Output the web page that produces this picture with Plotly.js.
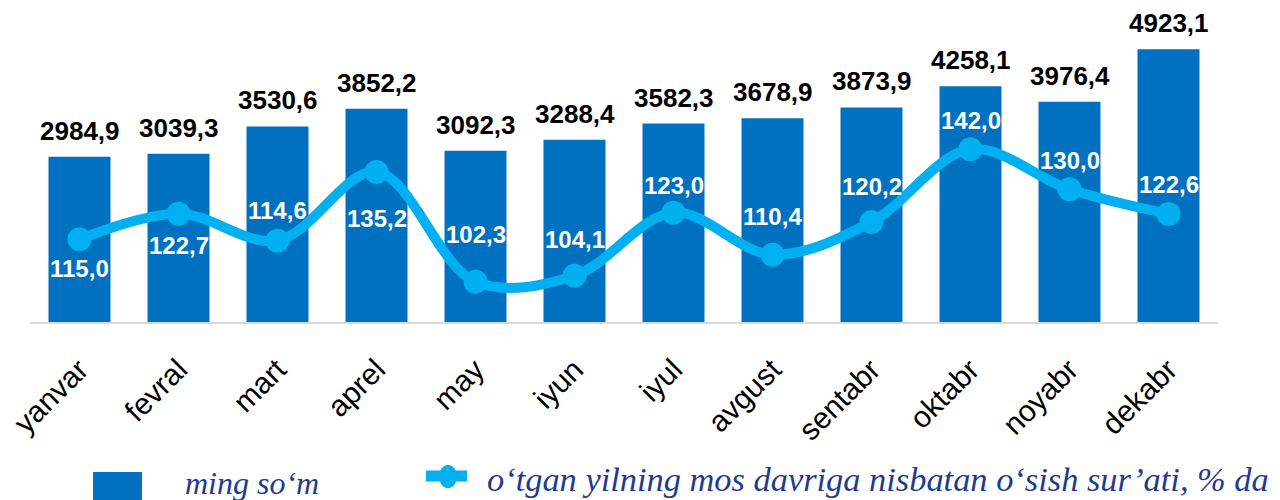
<!DOCTYPE html>
<html>
<head>
<meta charset="utf-8">
<script src="https://cdn.plot.ly/plotly-3.0.1.min.js"></script>
<style>html,body{margin:0;padding:0;background:#fff;}#chart{width:1280px;height:500px;}</style>
</head>
<body>
<div id="chart"></div>
<script>
const months = ['yanvar','fevral','mart','aprel','may','iyun','iyul','avgust','sentabr','oktabr','noyabr','dekabr'];
const amounts = [2984.9, 3039.3, 3530.6, 3852.2, 3092.3, 3288.4, 3582.3, 3678.9, 3873.9, 4258.1, 3976.4, 4923.1];
const growth = [115.0, 122.7, 114.6, 135.2, 102.3, 104.1, 123.0, 110.4, 120.2, 142.0, 130.0, 122.6];
const seriesNames = ['ming so‘m', 'o‘tgan yilning mos davriga nisbatan o‘sish sur’ati, % da'];

// label placement (style): vertical pixel shift of growth labels
const growthLabelShift = [-29, -32, 30, -47, 47, 36, 27, 38, 36, 29, 29, 30];

const BAR_COLOR = '#0070C0';
const LINE_COLOR = '#00B0F0';
const LEG_COLOR = '#1F3A93';
const fmt = v => v.toFixed(1).replace('.', ',');

// plot area geometry in pixels
const W = 1280, H = 500;
const M = {l: 30, r: 62, t: 10, b: 178};
const PW = W - M.l - M.r, PH = H - M.t - M.b;
const px = x => (x - M.l) / PW;
const py = y => (H - M.b - y) / PH;

const traces = [
  {
    type: 'bar', name: seriesNames[0], x: months, y: amounts,
    marker: {color: BAR_COLOR}, hoverinfo: 'x+y'
  },
  {
    type: 'scatter', mode: 'lines+markers', name: seriesNames[1], x: months, y: growth, yaxis: 'y2',
    line: {color: LINE_COLOR, width: 10, shape: 'spline', smoothing: 1},
    marker: {color: LINE_COLOR, size: 24}, cliponaxis: false
  }
];

const annotations = [];
months.forEach((m, i) => {
  annotations.push({
    x: m, y: amounts[i], xref: 'x', yref: 'y', text: fmt(amounts[i]), showarrow: false,
    yanchor: 'middle', yshift: 26,
    font: {family: 'Liberation Sans, Arial, sans-serif', size: 26, color: '#000000', weight: 'bold'}
  });
  annotations.push({
    x: m, y: growth[i], xref: 'x', yref: 'y2', text: fmt(growth[i]), showarrow: false,
    yanchor: 'middle', yshift: growthLabelShift[i],
    font: {family: 'Liberation Sans, Arial, sans-serif', size: 24, color: '#FFFFFF', weight: 'bold'}
  });
});
// legend texts
annotations.push({
  xref: 'paper', yref: 'paper', x: px(183), y: py(483), xanchor: 'left', yanchor: 'middle',
  text: seriesNames[0], showarrow: false,
  font: {family: 'Liberation Serif, serif', size: 32, color: LEG_COLOR, style: 'italic'}
});
annotations.push({
  xref: 'paper', yref: 'paper', x: px(485), y: py(479), xanchor: 'left', yanchor: 'middle',
  text: seriesNames[1], showarrow: false,
  font: {family: 'Liberation Serif, serif', size: 34.4, color: LEG_COLOR, style: 'italic'}
});

const shapes = [
  {type: 'rect', xref: 'paper', yref: 'paper', x0: px(93), x1: px(142), y0: py(472), y1: py(502),
   fillcolor: BAR_COLOR, line: {width: 0}},
  {type: 'line', xref: 'paper', yref: 'paper', x0: px(426), x1: px(467), y0: py(476), y1: py(476),
   line: {color: LINE_COLOR, width: 11}},
  {type: 'circle', xref: 'paper', yref: 'paper', x0: px(439), x1: px(457), y0: py(465), y1: py(488),
   fillcolor: LINE_COLOR, line: {width: 0}}
];

const layout = {
  width: W, height: H,
  margin: Object.assign({autoexpand: false}, M),
  paper_bgcolor: '#FFFFFF', plot_bgcolor: '#FFFFFF',
  showlegend: false,
  bargap: 0.374,
  font: {family: 'Liberation Sans, Arial, sans-serif'},
  xaxis: {
    type: 'category', range: [-0.5, months.length - 0.5], autorange: false,
    tickangle: -45, ticks: '', ticklabelstandoff: 16, automargin: false,
    tickfont: {family: 'Liberation Sans, Arial, sans-serif', size: 30, color: '#000000'},
    showline: true, linecolor: '#D9D9D9', linewidth: 2, showgrid: false, zeroline: false,
    fixedrange: true
  },
  yaxis: {range: [0, 5633], visible: false, showgrid: false, zeroline: false, fixedrange: true, automargin: false},
  yaxis2: {range: [90.22, 183.77], overlaying: 'y', visible: false, showgrid: false, zeroline: false, fixedrange: true, automargin: false},
  annotations: annotations,
  shapes: shapes
};

Plotly.newPlot('chart', traces, layout, {displayModeBar: false, staticPlot: true});
</script>
</body>
</html>
